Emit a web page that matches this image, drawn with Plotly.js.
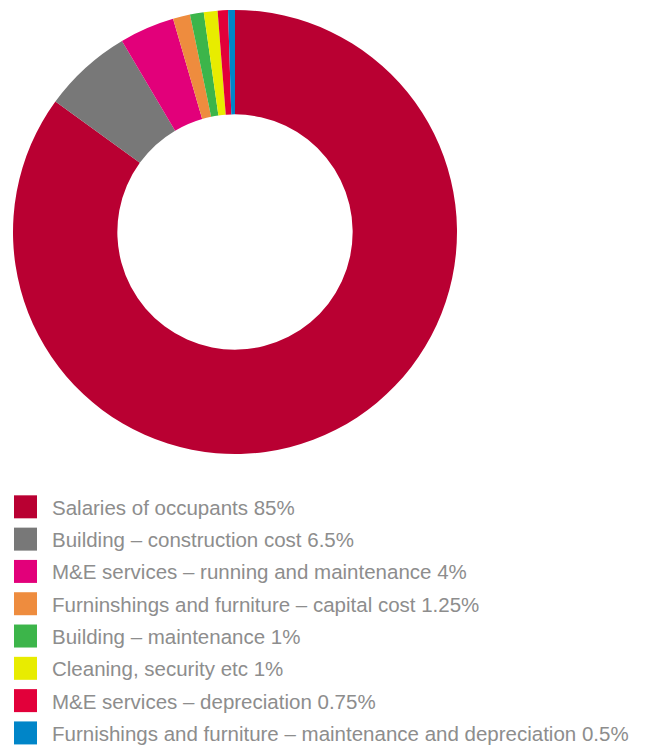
<!DOCTYPE html>
<html>
<head>
<meta charset="utf-8">
<script src="https://cdn.plot.ly/plotly-3.0.1.min.js"></script>
<style>
html,body{margin:0;padding:0;background:#fff;}
#chart{width:646px;height:745px;}
</style>
</head>
<body>
<div id="chart"></div>
<script>
var categories = [
  "Salaries of occupants 85%",
  "Building – construction cost 6.5%",
  "M&E services – running and maintenance 4%",
  "Furninshings and furniture – capital cost 1.25%",
  "Building – maintenance 1%",
  "Cleaning, security etc 1%",
  "M&E services – depreciation 0.75%",
  "Furnishings and furniture – maintenance and depreciation 0.5%"
];
var values = [85, 6.5, 4, 1.25, 1, 1, 0.75, 0.5];
var colors = ["#B90032", "#787878", "#E2007A", "#EE8C3E", "#3CB54A", "#E8EC00", "#E2003A", "#0085C8"];

var W = 646, H = 745;
var trace = {
  type: "pie",
  labels: categories,
  values: values,
  marker: {colors: colors, line: {width: 0}},
  hole: 0.53,
  sort: false,
  direction: "clockwise",
  rotation: 0,
  textinfo: "none",
  hoverinfo: "label",
  domain: {x: [13 / W, 457 / W], y: [1 - 454 / H, 1 - 10 / H]}
};

var layout = {
  width: W, height: H,
  margin: {l: 0, r: 0, t: 0, b: 0},
  paper_bgcolor: "#fff",
  showlegend: true,
  legend: {
    x: 12 / W, xanchor: "left",
    y: 1 - 487 / H, yanchor: "top",
    font: {family: "Liberation Sans, Arial, sans-serif", size: 20.5, color: "#8d8d8d"},
    itemclick: false, itemdoubleclick: false
  }
};

Plotly.newPlot("chart", [trace], layout, {displayModeBar: false, staticPlot: true}).then(function (gd) {
  var items = gd.querySelectorAll(".legend .traces");
  var y0 = 0;
  if (items.length) {
    var m = /translate\(\s*([-\d.]+)[ ,]+([-\d.]+)/.exec(items[0].getAttribute("transform") || "");
    if (m) y0 = parseFloat(m[2]);
  }
  items.forEach(function (el, i) {
    el.setAttribute("transform", "translate(0," + (y0 + i * 32.3) + ")");
  });
  gd.querySelectorAll(".legend .legendpoints path").forEach(function (p) {
    p.setAttribute("d", "M5,11.5H-18V-11.5H5Z");
  });
  gd.querySelectorAll(".legend .scrollbox").forEach(function (s) {
    s.removeAttribute("clip-path");
  });
  gd.querySelectorAll(".legend .scrollbar").forEach(function (s) {
    s.style.display = "none";
  });
});
</script>
</body>
</html>
